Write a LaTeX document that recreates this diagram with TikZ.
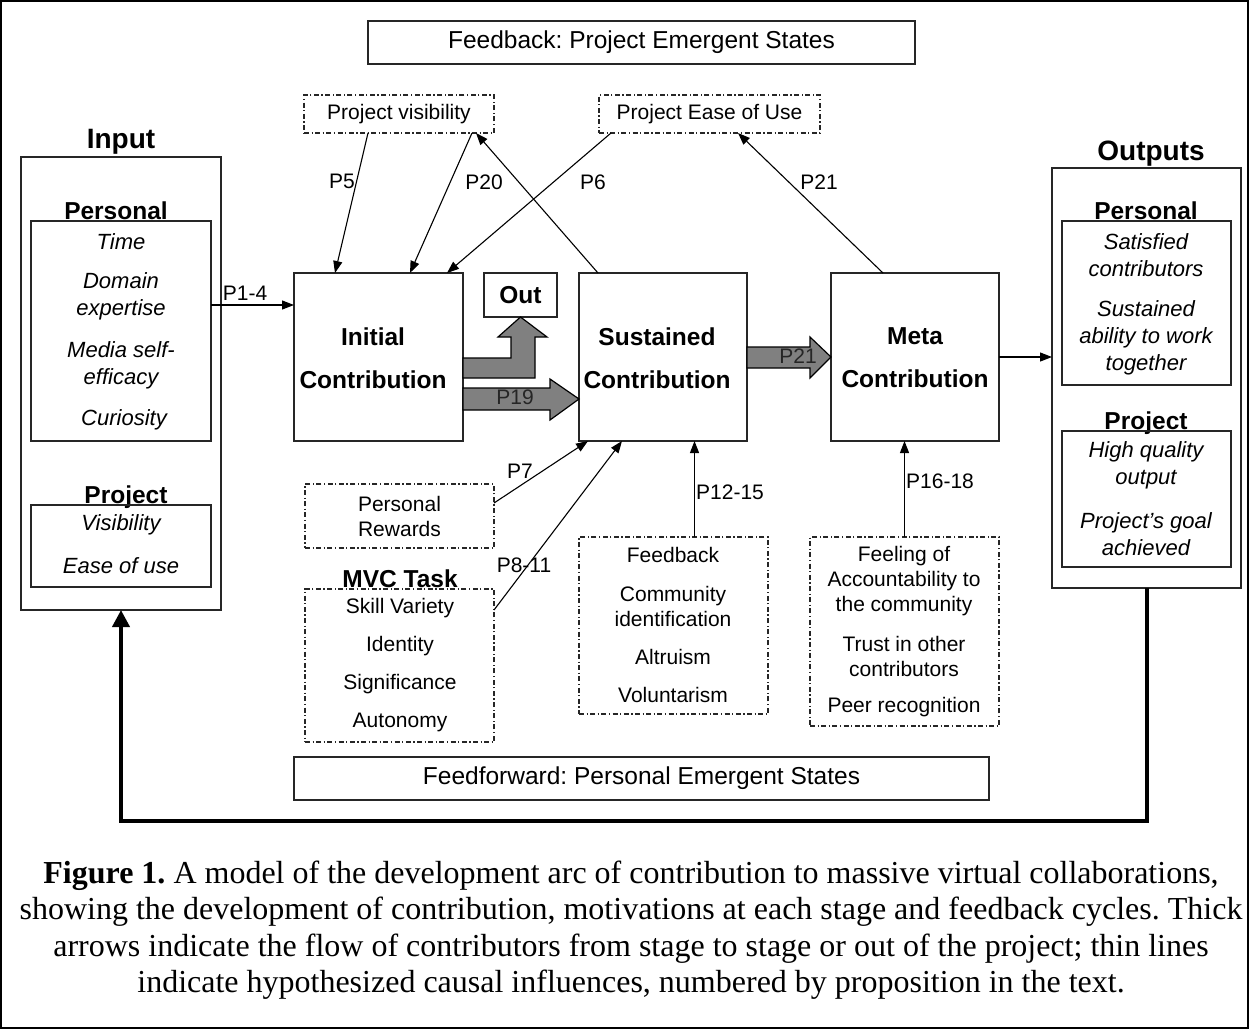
\documentclass[tikz,border=0pt]{standalone}
\usepackage{fontspec}
\setmainfont{Liberation Serif}
\setsansfont{Liberation Sans}
\usetikzlibrary{arrows.meta,calc}
\AtBeginDocument{\frenchspacing}
\begin{document}
\begin{tikzpicture}[x=1pt,y=-1pt,
  box/.style={draw=black!85, line width=1.2pt, inner sep=0pt, outer sep=0pt},
  dbox/.style={box, dash pattern=on 5pt off 2.5pt on 1.2pt off 2.5pt},
  lbl/.style={font=\sffamily\fontsize{21}{25}\selectfont, inner sep=0pt, align=center},
  itl/.style={font=\sffamily\itshape\fontsize{22}{27}\selectfont, inner sep=0pt, align=center},
  bld/.style={font=\sffamily\bfseries\fontsize{24.5}{28}\selectfont, inner sep=0pt},
  big/.style={font=\sffamily\bfseries\fontsize{28}{32}\selectfont, inner sep=0pt},
  hdr/.style={font=\sffamily\fontsize{24.5}{28}\selectfont},
  cbox/.style={box, minimum width=168pt, minimum height=168pt},
  ctext/.style={font=\sffamily\bfseries\fontsize{24.5}{43}\selectfont, align=center, inner sep=0pt},
  thinarr/.style={line width=1.1pt, -{Triangle[length=12pt,width=9pt]}},
  fat/.style={draw=black, line width=1.2pt, fill=black!50, line join=miter},
]
\useasboundingbox (0,0) rectangle (1249,1029);
\draw[line width=1.5pt] (1,1) rectangle (1248,1028);

% top boxes
\node[box, hdr, minimum width=547pt, minimum height=43pt] (fb) at (641.5,42.5) {Feedback: Project Emergent States};
\node[dbox, lbl, minimum width=190pt, minimum height=38pt] (pvis) at (399,114) {Project visibility};
\node[dbox, lbl, minimum width=221pt, minimum height=38pt] (pease) at (709.5,114) {Project Ease of Use};

% input
\node[big, anchor=base] (inlbl) at (121,148) {Input};
\node[box, minimum width=200pt, minimum height=453pt] (inbox) at (121,383.5) {};
\node[bld, anchor=base] (inperslbl) at (116,219) {Personal};
\node[box, minimum width=180pt, minimum height=220pt] (inpers) at (121,331) {};
\node[itl] (i1) at (121,242) {Time};
\node[itl] (i2) at (121,296.5) {Domain\\expertise};
\node[itl] (i3) at (121,365) {Media self-\\efficacy};
\node[itl] (i4) at (124,420) {Curiosity};
\node[bld, anchor=base] (inprojlbl) at (126,503) {Project};
\node[box, minimum width=180pt, minimum height=82pt] (inproj) at (121,546) {};
\node[itl] (i5) at (121,525) {Visibility};
\node[itl] (i6) at (121,566) {Ease of use};

% stages
\node[cbox, minimum width=169pt] (init) at (378.5,357) {};
\node[ctext] (initt) at (373,358) {Initial\\Contribution};
\node[box, bld, minimum width=73pt, minimum height=44pt] (out) at (520.5,295) {Out};
\node[cbox] (sust) at (663,357) {};
\node[ctext] (sustt) at (657,358) {Sustained\\Contribution};
\node[cbox] (meta) at (915,357) {};
\node[ctext] (metat) at (915,358) {Meta\\Contribution};

% outputs
\node[big, anchor=base] (outlbl) at (1151,160) {Outputs};
\node[box, minimum width=189pt, minimum height=420pt] (outbox) at (1146.5,378) {};
\node[bld, anchor=base] (operslbl) at (1146,219) {Personal};
\node[box, minimum width=169pt, minimum height=164pt] (opers) at (1146.5,303) {};
\node[itl] (o1) at (1146,255.5) {Satisfied\\contributors};
\node[itl] (o2) at (1146,338) {Sustained\\ability to work\\together};
\node[bld, anchor=base] (oprojlbl) at (1146,429) {Project};
\node[box, minimum width=169pt, minimum height=136pt] (oproj) at (1146.5,499) {};
\node[itl] (o3) at (1146,465.5) {High quality\\output};
\node[itl] (o4) at (1146,534.5) {Project’s goal\\achieved};

% motivation boxes
\node[dbox, lbl, minimum width=189pt, minimum height=64pt, font=\sffamily\fontsize{21}{25}\selectfont] (rew) at (399.5,516) {Personal\\Rewards};
\node[bld, anchor=base] (mvclbl) at (400,587) {MVC Task};
\node[dbox, minimum width=189pt, minimum height=153pt] (mvc) at (399.5,665.5) {};
\node[lbl] (m1) at (400,608) {Skill Variety};
\node[lbl] (m2) at (400,646) {Identity};
\node[lbl] (m3) at (400,684) {Significance};
\node[lbl] (m4) at (400,722) {Autonomy};
\node[dbox, minimum width=189pt, minimum height=177pt] (fbgrp) at (673.5,625.5) {};
\node[lbl] (f1) at (673,555) {Feedback};
\node[lbl] (f2) at (673,606.5) {Community\\identification};
\node[lbl] (f3) at (673,657) {Altruism};
\node[lbl] (f4) at (673,695) {Voluntarism};
\node[dbox, minimum width=189pt, minimum height=189pt] (metagrp) at (904.5,631.5) {};
\node[lbl] (g1) at (904,581) {Feeling of\\Accountability to\\the community};
\node[lbl] (g2) at (904,656.5) {Trust in other\\contributors};
\node[lbl] (g3) at (904,707) {Peer recognition};

\node[box, hdr, minimum width=695pt, minimum height=43pt] (ff) at (641.5,778.5) {Feedforward: Personal Emergent States};

% thin arrows
\draw[thinarr] ($(pvis.south west)+(64,0)$) -- ($(init.north west)+(41,0)$);
\draw[thinarr] ($(pvis.south west)+(168,0)$) -- ($(init.north west)+(116,0)$);
\draw[thinarr] ($(sust.north west)+(19,0)$) -- ($(pvis.south west)+(172,0)$);
\draw[thinarr] ($(pease.south west)+(12,0)$) -- ($(init.north west)+(153,0)$);
\draw[thinarr] ($(meta.north west)+(52,0)$) -- ($(pease.south west)+(139,0)$);
\draw[thinarr] ($(inpers.north east)+(0,84)$) -- ($(init.north west)+(0,32)$);
\draw[thinarr] (meta.east) -- (meta.east -| outbox.west);
\draw[thinarr] ($(rew.north east)+(0,19)$) -- ($(sust.south west)+(9,0)$);
\draw[thinarr] ($(mvc.north east)+(0,21)$) -- ($(sust.south west)+(43,0)$);
\coordinate (fbtop) at ($(fbgrp.north)+(21,0)$);
\draw[thinarr] (fbtop) -- (fbtop |- sust.south);
\draw[thinarr] (metagrp.north) -- (metagrp.north |- meta.south);

% labels
\node[lbl] (lp5) at (342,181) {P5};
\node[lbl] (lp20) at (484,182) {P20};
\node[lbl] (lp6) at (593,182) {P6};
\node[lbl] (lp21) at (819,182) {P21};
\node[lbl] (lp14) at (245,293) {P1-4};
\node[lbl] (lp7) at (520,471) {P7};
\node[lbl] (lp811) at (524,565) {P8-11};
\node[lbl] (lp1215) at (730,492) {P12-15};
\node[lbl] (lp1618) at (940,481) {P16-18};

% fat arrows
\draw[fat] (init.east |- 0,358) -- (511,358) -- (511,337) -- (498,337) -- (out.south) -- (547,337) -- (535,337) -- (535,378) -- (init.east |- 0,378) -- cycle;
\draw[fat] (init.east |- 0,388) -- (550,388) -- (550,379) -- (sust.west |- 0,399) -- (550,420) -- (550,410) -- (init.east |- 0,410) -- cycle;
\draw[fat] (sust.east |- 0,347) -- (810,347) -- (810,337) -- (meta.west) -- (810,378) -- (810,368) -- (sust.east |- 0,368) -- cycle;
\node[lbl, text=black!85] (lp19) at (515,397) {P19};
\node[lbl, text=black!85] (lp21b) at (798,356) {P21};

% feedback loop
\draw[line width=4pt, -{Triangle[length=17pt,width=17pt]}] (outbox.south) -- ++(0,233) -| (inbox.south);

% caption
\node[font=\fontsize{32}{36.5}\selectfont, align=center, inner sep=0pt] (cap) at (631,930) {\textbf{Figure 1.} A model of the development arc of contribution to massive virtual collaborations,\\ showing the development of contribution, motivations at each stage and feedback cycles. Thick\\ arrows indicate the flow of contributors from stage to stage or out of the project; thin lines\\ indicate hypothesized causal influences, numbered by proposition in the text.};
\end{tikzpicture}
\end{document}
